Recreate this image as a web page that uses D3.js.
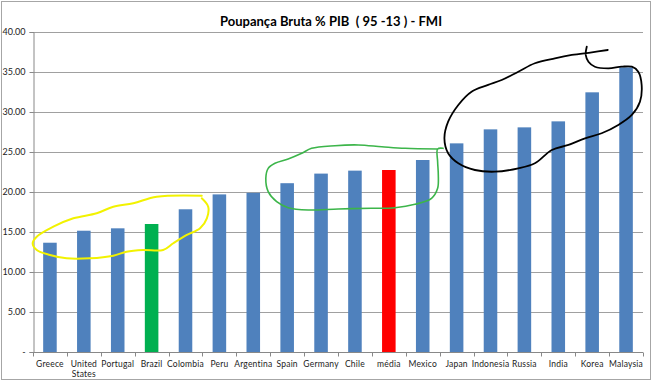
<!DOCTYPE html>
<html><head><meta charset="utf-8">
<script src="https://cdn.jsdelivr.net/npm/d3@7"></script>
<style>body{margin:0;background:#fff;}svg{display:block;}</style>
</head><body>
<svg id="c" width="652" height="382"></svg>
<script>
const categories = ["Greece","United States","Portugal","Brazil","Colombia","Peru","Argentina","Spain","Germany","Chile","média","Mexico","Japan","Indonesia","Russia","India","Korea","Malaysia"];
const values = [13.66,15.16,15.46,16.0,17.84,19.7,19.9,21.1,22.3,22.67,22.75,24.0,26.08,27.83,28.08,28.83,32.46,35.58];
const highlight = {"Brazil":"#00b050","média":"#ff0000"};
const yTicks = [0,5,10,15,20,25,30,35,40];
const title = "Poupança Bruta % PIB  ( 95 -13 ) - FMI";
// hand-drawn annotation loops, in data space: [category index, value]
const yellowLoop = [[4.48,19.54],[3.15,19.41],[2.46,18.59],[1.87,18.16],[1.38,17.34],[0.69,16.71],[0.10,15.66],[-0.39,14.41],[-0.51,13.59],[-0.39,12.75],[0.0,12.13],[0.49,11.71],[1.18,11.71],[1.87,12.04],[2.26,12.54],[2.75,12.75],[3.34,12.75],[3.64,13.59],[4.04,14.63],[4.43,15.46],[4.63,16.71],[4.67,18.16],[4.48,19.21]];
const greenLoop = [[11.44,25.38],[10.48,25.46],[9.79,25.66],[9.10,25.88],[8.41,25.79],[7.72,25.46],[7.43,24.84],[7.03,24.13],[6.64,23.59],[6.44,22.96],[6.37,21.71],[6.44,20.04],[6.69,18.79],[7.03,18.04],[7.62,17.75],[8.51,17.88],[9.49,17.96],[10.18,18.04],[10.77,18.46],[11.26,19.21],[11.44,20.46],[11.46,22.13],[11.44,23.79],[11.44,25.38],[11.60,25.46]];
const blackLoop = [[15.84,38.16],[15.81,37.13],[15.89,36.29],[16.08,35.66],[16.48,35.46],[16.87,35.66],[17.17,35.66],[17.36,35.04],[17.46,33.38],[17.41,31.29],[17.17,29.63],[16.77,28.38],[16.28,27.34],[15.79,26.71],[15.30,25.88],[14.81,25.25],[14.31,23.59],[13.82,22.96],[13.13,22.54],[12.54,22.75],[12.05,23.59],[11.75,24.84],[11.64,26.71],[11.75,28.79],[12.05,30.88],[12.44,32.54],[12.93,33.38],[13.33,34.0],[13.82,35.04],[14.31,36.09],[14.90,36.71],[15.40,37.13],[15.99,37.46],[16.46,37.75]];

const svg = d3.select("#c");
const W = 652, H = 382;
const m = {left:33, right:9, top:32, bottom:30};
const x = d3.scaleBand().domain(categories).range([m.left, W - m.right]).paddingInner(0.6).paddingOuter(0.3);
const y = d3.scaleLinear().domain([0,40]).range([H - m.bottom, m.top]);
const xi = d3.scaleLinear().domain([-0.5, categories.length - 0.5]).range([m.left, W - m.right]);
const font = "Lato, 'Liberation Sans', sans-serif";

// chart border
svg.append("rect").attr("x",1.5).attr("y",1.5).attr("width",W-3).attr("height",H-4)
  .attr("fill","#fff").attr("stroke","#a6a6a6").attr("stroke-width",1);

// title
svg.append("text").attr("x",331).attr("y",26).attr("text-anchor","middle")
  .attr("font-family",font).attr("font-weight","bold").attr("font-size",13)
  .attr("fill","#000").style("white-space","pre").text(title);

// gridlines
svg.append("g").selectAll("line").data(yTicks.filter(d=>d>0)).join("line")
  .attr("x1",m.left).attr("x2",W-m.right)
  .attr("y1",d=>Math.round(y(d))+0.5).attr("y2",d=>Math.round(y(d))+0.5)
  .attr("stroke","#a0a0a0").attr("stroke-width",1);

// y axis
const yAxis = d3.axisLeft(y).tickValues(yTicks).tickSize(4).tickPadding(4)
  .tickFormat(d => d === 0 ? "-" : d3.format(".2f")(d));
const gy = svg.append("g").attr("transform",`translate(${m.left+0.5},0)`).call(yAxis);
gy.select(".domain").attr("stroke","#888");
gy.selectAll(".tick line").attr("stroke","#888");
gy.selectAll(".tick text").attr("font-family",font).attr("font-size",9).attr("fill","#222");

// bars
svg.append("g").selectAll("rect").data(categories).join("rect")
  .attr("x",d=>x(d)).attr("width",x.bandwidth())
  .attr("y",(d,i)=>y(values[i])).attr("height",(d,i)=>y(0)-y(values[i]))
  .attr("fill",d=>highlight[d] || "#4f81bd");

// x axis
const gx = svg.append("g").attr("transform",`translate(0,${Math.round(y(0))+0.5})`);
gx.append("line").attr("x1",m.left).attr("x2",W-m.right).attr("stroke","#888");
gx.selectAll("line.tk").data(d3.range(categories.length+1)).join("line").attr("class","tk")
  .attr("x1",i=>Math.round(xi(i-0.5))+0.5).attr("x2",i=>Math.round(xi(i-0.5))+0.5)
  .attr("y1",0).attr("y2",4).attr("stroke","#888");
const labels = gx.selectAll("text").data(categories).join("text")
  .attr("text-anchor","middle").attr("font-family",font).attr("font-size",8.5).attr("fill","#222")
  .attr("letter-spacing",0.2)
  .attr("transform",d=>`translate(${x(d)+x.bandwidth()/2},14)`);
labels.each(function(d){
  const words = d.split(" ");
  d3.select(this).selectAll("tspan").data(words).join("tspan")
    .attr("x",0).attr("dy",(w,i)=>i===0?0:10).text(w=>w);
});

// hand-drawn annotations
const line = d3.line().x(p=>xi(p[0])).y(p=>y(p[1])).curve(d3.curveCatmullRom.alpha(0.5));
svg.append("path").attr("d",line(yellowLoop)).attr("fill","none").attr("stroke","#f2f200").attr("stroke-width",2).attr("stroke-linecap","round");
svg.append("path").attr("d",line(greenLoop)).attr("fill","none").attr("stroke","#3cb54a").attr("stroke-width",1.6).attr("stroke-linecap","round");
svg.append("path").attr("d",line(blackLoop)).attr("fill","none").attr("stroke","#000").attr("stroke-width",1.8).attr("stroke-linecap","round");
</script>
</body></html>
